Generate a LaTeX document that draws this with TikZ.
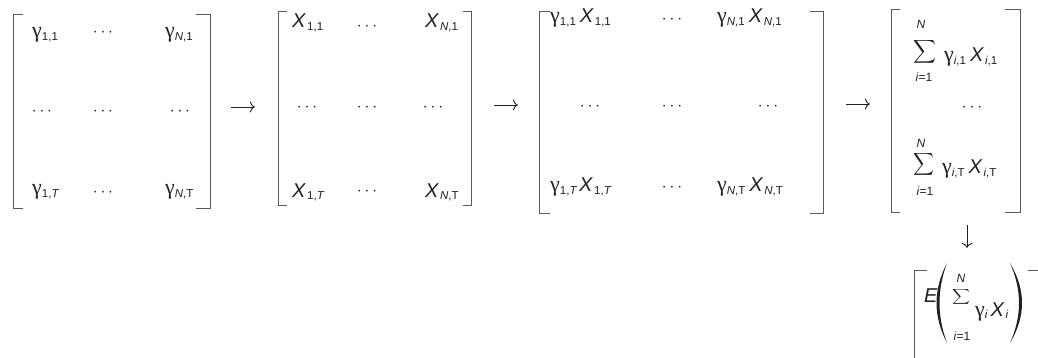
\documentclass[tikz,border=0pt]{standalone}
\usepackage{exscale}
\usepackage{graphicx}
\usepackage{fontspec}
\setmainfont{Liberation Sans}
\newfontfamily\gfont{Liberation Serif}
\usetikzlibrary{arrows.meta}
\definecolor{ink}{gray}{0.13}
\newcommand\g{{\gfont\fontsize{22}{24}\selectfont γ}}
\newcommand\subx[1]{\raisebox{-2.5pt}{\fontsize{11.5}{12}\selectfont #1}}
\newcommand\bigsigma[2]{\resizebox*{#1pt}{#2pt}{$\displaystyle\sum$}}
\newcommand\drawbrackets[3]{%
  \draw[brk] ([xshift=#2pt]#1.north west) -- (#1.north west) -- (#1.south west) -- ([xshift=#2pt]#1.south west);
  \draw[brk] ([xshift=-#3pt]#1.north east) -- (#1.north east) -- (#1.south east) -- ([xshift=-#3pt]#1.south east);}
\begin{document}
\begin{tikzpicture}[x=1pt,y=-1pt,
  cell/.style={inner sep=0pt,text=ink,font=\fontsize{20}{24}\selectfont},
  dts/.style={inner sep=0pt,text=ink,font=\fontsize{16}{16}\selectfont},
  lim/.style={inner sep=0pt,text=ink,font=\fontsize{12}{12}\selectfont},
  sig/.style={inner sep=0pt,text=ink},
  mat/.style={inner sep=0pt,draw=none},
  brk/.style={draw=ink!75,line width=0.8pt},
  arr/.style={draw=ink,line width=0.9pt,-{To[length=5pt,width=11pt]}},
  paren/.style={fill=ink,draw=none}]
\useasboundingbox (0,0) rectangle (1038,358);

% matrix frames
\node[mat,minimum width=196pt,minimum height=193pt] (m1) at (112,111.5) {};
\node[mat,minimum width=192pt,minimum height=193pt] (m2) at (375,108.5) {};
\node[mat,minimum width=283pt,minimum height=201pt] (m3) at (681.5,112.5) {};
\node[mat,minimum width=128pt,minimum height=202pt] (m4) at (956,111) {};
\node[mat,minimum width=125pt,minimum height=129pt] (m5) at (977.5,335.5) {};
\drawbrackets{m1}{9}{14}
\drawbrackets{m2}{8}{8}
\drawbrackets{m3}{10}{13}
\drawbrackets{m4}{8}{15}
\drawbrackets{m5}{12}{12}

% matrix 1
\node[cell,anchor=base west] (g11) at (32,38) {\g\subx{1,1}};
\node[dts] (d1a) at (103,33) {$\cdots$};
\node[cell,anchor=base west] (gN1) at (165,38) {\g\subx{\textit{N},1}};
\node[dts] (d1b) at (42,112) {$\cdots$};
\node[dts] (d1c) at (103,112) {$\cdots$};
\node[dts] (d1d) at (180,112) {$\cdots$};
\node[cell,anchor=base west] (g1T) at (32,195) {\g\subx{1,\textit{T}}};
\node[dts] (d1e) at (103,193) {$\cdots$};
\node[cell,anchor=base west] (gNT) at (165,195) {\g\subx{\textit{N},T}};

% matrix 2
\node[cell,anchor=base west] (x11) at (292,28) {\textit{X}\kern1pt\subx{1,1}};
\node[dts] (d2a) at (367,27) {$\cdots$};
\node[cell,anchor=base west] (xN1) at (425,28) {\textit{X}\kern1pt\subx{\textit{N},1}};
\node[dts] (d2b) at (307,108) {$\cdots$};
\node[dts] (d2c) at (367,108) {$\cdots$};
\node[dts] (d2d) at (433,108) {$\cdots$};
\node[cell,anchor=base west] (x1T) at (292,197) {\textit{X}\kern1pt\subx{1,\textit{T}}};
\node[dts] (d2e) at (367,192) {$\cdots$};
\node[cell,anchor=base west] (xNT) at (425,197) {\textit{X}\kern1pt\subx{\textit{N},T}};

% matrix 3
\node[cell,anchor=base west] (p11) at (550,23) {\g\subx{1,1}\kern4pt\textit{X}\kern1pt\subx{1,1}};
\node[dts] (d3a) at (672,20) {$\cdots$};
\node[cell,anchor=base west] (pN1) at (717,23) {\g\subx{\textit{N},1}\kern4pt\textit{X}\kern1pt\subx{\textit{N},1}};
\node[dts] (d3b) at (590,107) {$\cdots$};
\node[dts] (d3c) at (672,107) {$\cdots$};
\node[dts] (d3d) at (768,107) {$\cdots$};
\node[cell,anchor=base west] (p1T) at (550,192) {\g\subx{1,\textit{T}}\kern2pt\textit{X}\kern1pt\subx{1,\textit{T}}};
\node[dts] (d3e) at (672,188) {$\cdots$};
\node[cell,anchor=base west] (pNT) at (717,192) {\g\subx{\textit{N},T}\kern4pt\textit{X}\kern1pt\subx{\textit{N},T}};

% matrix 4
\node[sig] (s1) at (925,51.5) {\bigsigma{23}{26}};
\node[lim] (n1) at (921,24) {\textit{N}};
\node[lim] (i1) at (924,77) {\textit{i}=1};
\node[cell,anchor=base west] (q1) at (944,62) {\g\subx{\textit{i},1}\kern4pt\textit{X}\kern1pt\subx{\textit{i},1}};
\node[dts] (d4) at (972,108) {$\cdots$};
\node[sig] (s2) at (924,164.5) {\bigsigma{21}{25}};
\node[lim] (n2) at (921,143) {\textit{N}};
\node[lim] (i2) at (925,191) {\textit{i}=1};
\node[cell,anchor=base west] (q2) at (942,174) {\g\subx{\textit{i},T}\kern4pt\textit{X}\kern1pt\subx{\textit{i},T}};

% final expectation
\node[cell,anchor=base west] (E) at (924,302) {\textit{E}};
\fill[paren] (947,263) .. controls (933,290) and (933,316) .. (947,343) .. controls (937,316) and (937,290) .. cycle;
\node[sig] (s3) at (961,296.5) {\bigsigma{18}{17}};
\node[lim] (n3) at (961,278) {\textit{N}};
\node[lim] (i3) at (962,336) {\textit{i}=1};
\node[cell,anchor=base west] (gx) at (975,316) {\g\subx{\textit{i}}\kern3pt\textit{X}\kern1pt\subx{\textit{i}}};
\fill[paren] (1010,263) .. controls (1026,290) and (1026,316) .. (1010,343) .. controls (1022,316) and (1022,290) .. cycle;

% arrows
\coordinate (a1) at (243,107);
\coordinate (a2) at (506,105);
\coordinate (a3) at (858,104);
\coordinate (a4) at (967,236);
\draw[arr,shorten <=21pt,shorten >=24pt] (m1.east |- a1) -- (m2.west |- a1);
\draw[arr,shorten <=23pt,shorten >=22pt] (m2.east |- a2) -- (m3.west |- a2);
\draw[arr,shorten <=23pt,shorten >=22pt] (m3.east |- a3) -- (m4.west |- a3);
\draw[arr,shorten <=13pt,shorten >=23pt] (m4.south -| a4) -- (m5.north -| a4);
\end{tikzpicture}
\end{document}
